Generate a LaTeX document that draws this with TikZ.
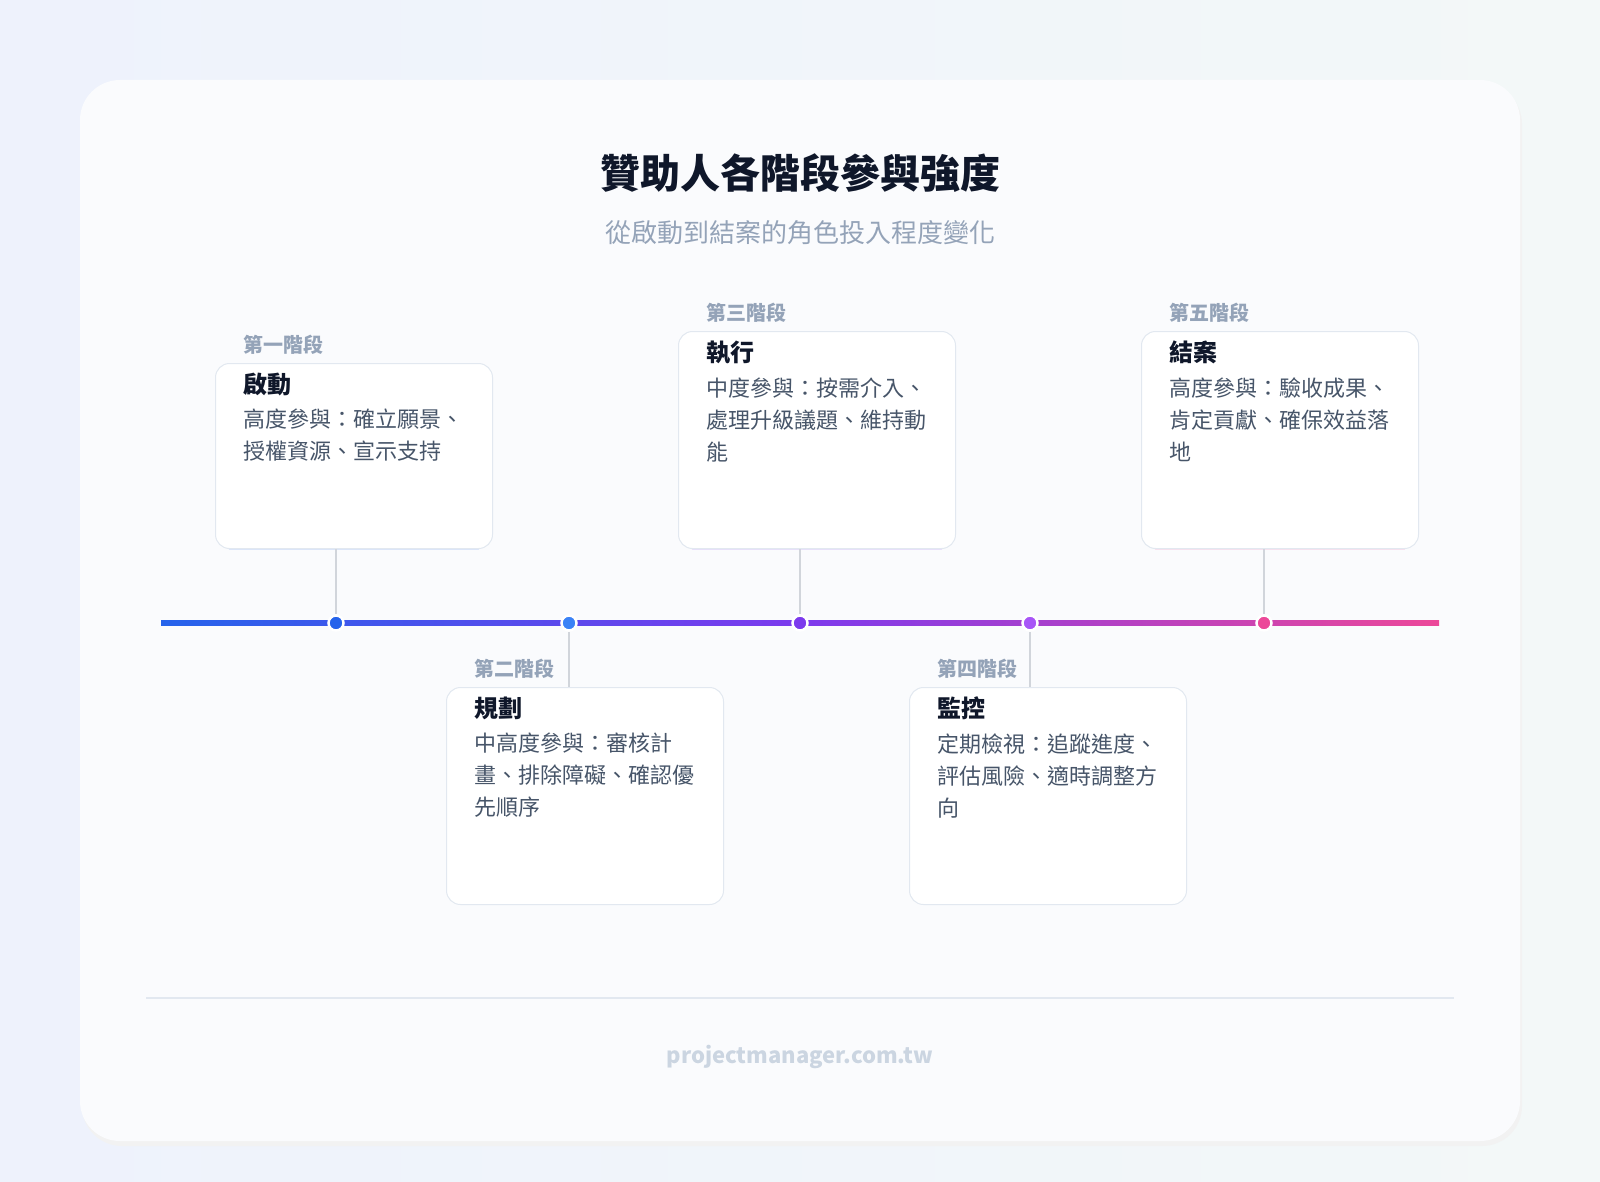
\documentclass[tikz,border=0pt]{standalone}
\usepackage{fontspec}
\setmainfont{Noto Sans CJK TC}
\usetikzlibrary{positioning}
\definecolor{cBlue}{HTML}{2563EB}
\definecolor{cSky}{HTML}{3B82F6}
\definecolor{cViolet}{HTML}{7C3AED}
\definecolor{cPurple}{HTML}{A855F7}
\definecolor{cPink}{HTML}{EC4899}
\definecolor{cInk}{HTML}{0F172A}
\definecolor{cBody}{HTML}{475569}
\definecolor{cMute}{HTML}{94A3B8}
\definecolor{cStem}{HTML}{D1D5DB}
\definecolor{cEdge}{HTML}{E2E8F0}
\definecolor{cPanel}{HTML}{FAFBFD}
\definecolor{cBgL}{HTML}{EEF2FC}
\definecolor{cBgR}{HTML}{F3F8F8}
\definecolor{cFoot}{HTML}{CBD5E1}
\tikzset{
  card/.style={draw=cEdge,line width=1pt,fill=white,rounded corners=14pt,minimum width=277pt,minimum height=217pt,inner sep=0pt},
  phase/.style={anchor=north west,inner sep=0pt,text=cMute,font=\fontsize{20}{24}\selectfont\bfseries},
  stagename/.style={anchor=north west,inner sep=0pt,text=cInk,font=\fontsize{24}{28}\selectfont\bfseries},
  body/.style={anchor=north west,inner sep=0pt,text=cBody,align=left,font=\fontsize{22}{32}\selectfont},
  dot/.style={circle,fill=#1,draw=white,line width=2.5pt,minimum size=15pt,inner sep=0pt},
  stem/.style={cStem,line width=2.5pt}
}
\newcommand\stagebox[8]{% name, x, y, h, colour, side, bar shift, phase
  \node[card,minimum height=#4pt,anchor=north west] (#1) at (#2,#3) {};
  \begin{scope}
    \clip[rounded corners=14pt] (#1.south west) rectangle (#1.north east);
    \fill[#5] ([yshift=#7]#1.#6 west) rectangle (#1.#6 east);
  \end{scope}
  \node[phase] (#1p) at ([xshift=28pt,yshift=-28pt]#1.north west) {#8};
}
\begin{document}
\begin{tikzpicture}[x=1pt,y=1pt,yscale=-1]
\useasboundingbox (0,0) rectangle (1600,1182);
\shade[left color=cBgL,right color=cBgR] (0,0) rectangle (1600,1182);
% main panel
\fill[black!5,rounded corners=40pt] (82,84) rectangle (1522,1146);
\fill[cPanel,rounded corners=40pt] (80,80) rectangle (1520,1141);

\node[text=cInk,font=\fontsize{40}{48}\selectfont\bfseries] (title) at (800,173) {贊助人各階段參與強度};
\node[text=cMute,font=\fontsize{26}{32}\selectfont] (sub) at (800,233) {從啟動到結案的角色投入程度變化};

% timeline
\shade[left color=cBlue,right color=cViolet] (161,620.5) rectangle (800,625.5);
\shade[left color=cViolet,right color=cPink] (800,620.5) rectangle (1439,625.5);

\stagebox{s1}{215}{363}{185}{cBlue}{south}{6pt}{第一階段}
\stagebox{s3}{678}{331}{217}{cViolet}{south}{6pt}{第三階段}
\stagebox{s5}{1141}{331}{217}{cPink}{south}{6pt}{第五階段}
\stagebox{s2}{446}{687}{217}{cSky}{north}{-6pt}{第二階段}
\stagebox{s4}{909}{687}{217}{cPurple}{north}{-6pt}{第四階段}

\foreach \s/\n/\b in {s1/啟動/{高度參與：確立願景、\\授權資源、宣示支持},
                      s2/規劃/{中高度參與：審核計\\畫、排除障礙、確認優\\先順序},
                      s3/執行/{中度參與：按需介入、\\處理升級議題、維持動\\能},
                      s4/監控/{定期檢視：追蹤進度、\\評估風險、適時調整方\\向},
                      s5/結案/{高度參與：驗收成果、\\肯定貢獻、確保效益落\\地}}{
  \node[stagename,below=18pt of \s p.south west,anchor=north west] (\s n) {\n};
  \node[body,below=13pt of \s n.south west,anchor=north west] (\s b) {\b};
}

% dots and stems
\node[dot=cBlue] (d1) at (336,623) {};
\node[dot=cSky] (d2) at (569,623) {};
\node[dot=cViolet] (d3) at (800,623) {};
\node[dot=cPurple] (d4) at (1030,623) {};
\node[dot=cPink] (d5) at (1264,623) {};
\draw[stem] (s1.south -| d1) -- (d1.north);
\draw[stem] (s3.south -| d3) -- (d3.north);
\draw[stem] (s5.south -| d5) -- (d5.north);
\draw[stem] (d2.south) -- (s2.north -| d2);
\draw[stem] (d4.south) -- (s4.north -| d4);

% footer
\draw[cEdge,line width=1.5pt] (146,998) -- (1454,998);
\node[text=cFoot,font=\fontsize{22}{26}\selectfont\bfseries] (site) at (800,1057) {projectmanager.com.tw};
\end{tikzpicture}
\end{document}
